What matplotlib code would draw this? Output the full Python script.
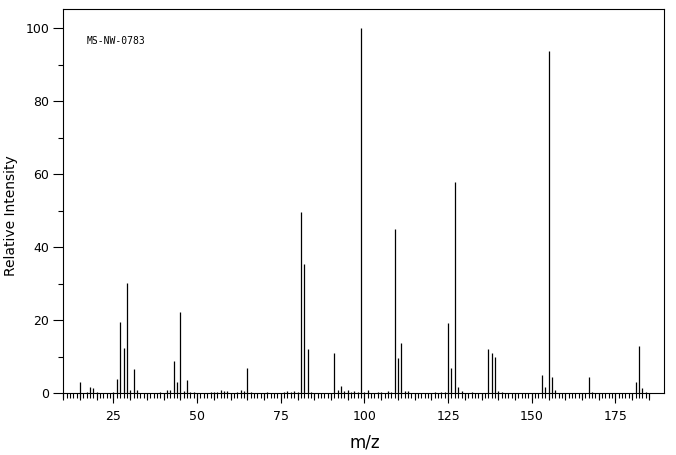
import matplotlib
matplotlib.use('Agg')
import matplotlib.pyplot as plt
from matplotlib.ticker import MultipleLocator, FixedLocator

# peak list (m/z, relative intensity)
mz = [15, 17, 18, 19, 20, 25, 26, 27, 28, 29, 30, 31, 32, 39, 41, 42, 43, 44, 45, 46,
      47, 48, 49, 54, 55, 56, 57, 58, 59, 62, 63, 64, 65, 66, 71, 76, 77, 78, 79, 80,
      81, 82, 83, 84, 91, 92, 93, 94, 95, 96, 97, 98, 99, 100, 101, 104, 105, 107, 108, 109,
      110, 111, 112, 113, 121, 123, 124, 125, 126, 127, 128, 129, 132, 137, 138, 139, 140, 141, 153, 154,
      155, 156, 157, 167, 168, 181, 182, 183, 184]
intensity = [3.1, 0.3, 1.7, 1.5, 0.3, 0.3, 3.9, 19.5, 12.4, 30.1, 0.8, 6.7, 1.0, 0.3, 0.8, 1.0, 8.9, 3.1, 22.3, 0.5,
             3.6, 0.3, 0.3, 0.3, 0.3, 0.3, 0.8, 0.5, 0.5, 0.3, 1.0, 0.5, 6.9, 0.3, 0.3, 0.3, 0.6, 0.3, 0.6, 0.3,
             49.7, 35.4, 12.1, 0.3, 11.0, 0.8, 2.0, 0.6, 0.8, 0.3, 0.6, 0.3, 100.0, 0.3, 0.8, 0.3, 0.3, 0.6, 0.3, 45.0,
             9.7, 13.8, 0.5, 0.5, 0.3, 0.3, 0.3, 19.3, 6.9, 57.8, 1.7, 0.5, 0.3, 12.1, 11.0, 9.9, 0.5, 0.3, 5.0, 1.7,
             93.8, 4.5, 0.8, 4.5, 0.3, 3.1, 13.0, 1.5, 0.3]

fig = plt.figure(figsize=(6.76, 4.55), dpi=100)
ax = fig.add_axes([0.0936, 0.1356, 0.8891, 0.8440])

ax.vlines(mz, 0, intensity, colors='black', linewidth=0.9)

ax.set_xlim(10, 189.6)
ax.set_ylim(0, 105.2)

for s in ax.spines.values():
    s.set_linewidth(0.8)

# x ticks: labelled every 25, unit ticks, and longer ones every 5
ax.xaxis.set_major_locator(MultipleLocator(25))
ax.xaxis.set_minor_locator(FixedLocator(range(10, 186)))
ax.tick_params(axis='x', which='major', length=7.2, width=0.8, pad=4.5, labelsize=9)
ax.tick_params(axis='x', which='minor', length=3.6, width=0.8)
sec = ax.secondary_xaxis('bottom')
sec.set_xticks(range(10, 186, 5))
sec.tick_params(length=5.0, width=0.8, labelbottom=False)
sec.spines['bottom'].set_visible(False)

ax.yaxis.set_major_locator(FixedLocator(range(0, 101, 20)))
ax.yaxis.set_minor_locator(FixedLocator(range(10, 100, 20)))
ax.tick_params(axis='y', which='major', length=7.2, width=0.8, pad=3, labelsize=9)
ax.tick_params(axis='y', which='minor', length=3.6, width=0.8)

ax.set_xlabel('m/z', fontsize=12)
ax.xaxis.set_label_coords(0.502, -0.105)
ax.set_ylabel('Relative Intensity', fontsize=10)
ax.yaxis.set_label_coords(-0.076, 0.462)

ax.text(0.0394, 0.9175, 'MS-NW-0783', transform=ax.transAxes, fontsize=7,
        family='DejaVu Sans Mono', va='center', ha='left')

fig.savefig('out.png', dpi=100)
